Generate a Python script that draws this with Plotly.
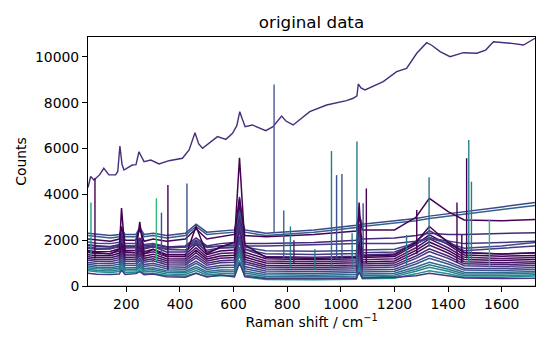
import plotly.graph_objects as go

# ---------------- data ----------------
shift = [57, 90, 140, 174, 182, 195, 236, 250, 266, 300, 350, 420, 460, 500, 550,
         603, 622, 642, 720, 900, 1058, 1068, 1080, 1200, 1280, 1330, 1400, 1460, 1600, 1724]

top_shift = [57, 67, 79, 100, 116, 135, 160, 168, 176, 184, 191, 222, 236, 247, 266, 291, 322, 359,
             409, 434, 456, 470, 484, 540, 571, 596, 612, 623, 632, 643, 670, 720, 747, 779, 795,
             822, 884, 947, 1021, 1046, 1060, 1065, 1075, 1090, 1158, 1208, 1245, 1283, 1320, 1340,
             1370, 1407, 1457, 1507, 1540, 1569, 1631, 1681, 1724]
top_counts = [4300, 4780, 4630, 4850, 5140, 4850, 4850, 5000, 6110, 5300, 5065, 5280, 5300, 5860, 5430,
              5500, 5330, 5470, 5575, 5940, 6690, 6200, 6010, 6520, 6400, 6665, 7000, 7610, 7300, 6955,
              7030, 6780, 6955, 7420, 7200, 7030, 7610, 7900, 8090, 8195, 8300, 8820, 8650, 8557, 8920,
              9360, 9504, 10160, 10622, 10500, 10230, 10010, 10185, 10160, 10300, 10665, 10600, 10520, 10815]

# upper group of spectra
spec_u1 = [2300, 2250, 2200, 2250, 2500, 2250, 2250, 2550, 2250, 2300, 2200, 2300, 2700, 2350, 2400,
           2450, 3300, 2450, 2300, 2450, 2650, 3100, 2700, 2850, 2950, 3050, 3150, 3250, 3450, 3650]
spec_u2 = [2200, 2150, 2100, 2150, 2400, 2150, 2150, 2450, 2150, 2200, 2100, 2200, 2600, 2250, 2300,
           2350, 3200, 2350, 2200, 2350, 2550, 3000, 2600, 2750, 2850, 2950, 3050, 3150, 3350, 3520]
spec_u3 = [2050, 2000, 1950, 2050, 2600, 2000, 2000, 2500, 1950, 2050, 1950, 2050, 2500, 2050, 2150,
           2250, 3800, 2200, 2150, 2250, 2400, 3000, 2450, 2450, 3000, 3830, 3250, 2880, 2850, 2900]
spec_u4 = [1800, 1750, 1700, 1800, 2200, 1750, 1750, 2100, 1750, 1800, 1700, 1750, 2100, 1750, 1850,
           1900, 3000, 1850, 1850, 1900, 2000, 2500, 2050, 2100, 2200, 2300, 2250, 2250, 2300, 2330]
spec_u5 = [1700, 1650, 1650, 1700, 2000, 1700, 1700, 1950, 1650, 1700, 1650, 1700, 2000, 1700, 1750,
           1800, 2700, 1750, 1750, 1800, 1850, 2300, 1850, 1850, 1950, 2100, 1950, 1850, 1900, 1950]

# spectrum with strong peaks
spec_p = [1500, 1450, 1400, 1600, 3400, 1500, 1450, 2800, 1400, 1600, 1300, 1300, 2600, 1400, 1700,
          1900, 5600, 1800, 1250, 1200, 1250, 3640, 1300, 1350, 1900, 2600, 1900, 1450, 1400, 1450]

# dense lower group
spec_l01 = [670, 620, 590, 630, 830, 590, 578, 700, 540, 560, 460, 432, 570, 410, 450,
            450, 1110, 400, 282, 270, 298, 730, 314, 342, 530, 670, 530, 378, 386, 432]
spec_l02 = [730, 680, 655, 705, 955, 660, 650, 805, 610, 640, 525, 500, 675, 480, 535,
            540, 1370, 485, 345, 330, 360, 900, 380, 410, 640, 815, 640, 450, 450, 495]
spec_l03 = [800, 750, 728, 783, 1058, 735, 726, 898, 685, 720, 598, 574, 768, 555, 618,
            625, 1540, 568, 417, 400, 431, 1025, 453, 484, 735, 928, 735, 526, 522, 567]
spec_l04 = [870, 820, 800, 860, 1160, 810, 802, 990, 760, 800, 670, 648, 860, 630, 700,
            710, 1710, 650, 488, 470, 502, 1150, 526, 558, 830, 1040, 830, 602, 594, 638]
spec_l05 = [950, 900, 885, 955, 1305, 900, 894, 1115, 850, 900, 755, 736, 985, 720, 805,
            820, 1990, 755, 571, 550, 584, 1340, 612, 646, 960, 1205, 960, 694, 678, 721]
spec_l06 = [1030, 980, 968, 1043, 1418, 985, 980, 1218, 935, 990, 838, 820, 1088, 805, 898,
            915, 2170, 848, 653, 630, 665, 1475, 695, 730, 1065, 1328, 1065, 780, 760, 803]
spec_l07 = [1120, 1070, 1063, 1148, 1573, 1085, 1082, 1353, 1035, 1100, 933, 918, 1223, 905, 1013,
            1035, 2460, 963, 746, 720, 757, 1675, 791, 828, 1205, 1503, 1205, 882, 854, 896]
spec_l08 = [1200, 1150, 1145, 1235, 1685, 1170, 1168, 1455, 1120, 1190, 1015, 1002, 1325, 990, 1105,
            1130, 2640, 1055, 827, 800, 838, 1810, 874, 912, 1310, 1625, 1310, 968, 936, 977]
spec_l09 = [1280, 1230, 1230, 1330, 1830, 1260, 1260, 1580, 1210, 1290, 1100, 1090, 1450, 1080, 1210,
            1240, 2920, 1160, 910, 880, 920, 2000, 960, 1000, 1440, 1790, 1440, 1060, 1020, 1060]
spec_l10 = [1370, 1320, 1323, 1428, 1953, 1355, 1356, 1693, 1305, 1390, 1193, 1184, 1563, 1175, 1313,
            1345, 3110, 1263, 1002, 970, 1011, 2145, 1053, 1094, 1555, 1923, 1555, 1156, 1112, 1152]
spec_l11 = [1460, 1410, 1415, 1525, 2075, 1450, 1452, 1805, 1400, 1490, 1285, 1278, 1675, 1270, 1415,
            1450, 3300, 1365, 1093, 1060, 1102, 2290, 1146, 1188, 1670, 2055, 1670, 1252, 1204, 1243]
spec_l12 = [1550, 1500, 1510, 1630, 2230, 1550, 1554, 1940, 1500, 1600, 1380, 1376, 1810, 1370, 1530,
            1570, 3590, 1480, 1186, 1150, 1194, 2490, 1242, 1286, 1810, 2230, 1810, 1354, 1298, 1336]
spec_l13 = [1650, 1600, 1615, 1745, 2395, 1660, 1666, 2085, 1610, 1720, 1485, 1484, 1955, 1480, 1655,
            1700, 3890, 1605, 1289, 1250, 1296, 2700, 1348, 1394, 1960, 2415, 1960, 1466, 1402, 1439]
spec_l14 = [1780, 1730, 1720, 1800, 2200, 1740, 1736, 1990, 1690, 1750, 1590, 1574, 1860, 1560, 1660,
            1680, 3020, 1610, 1404, 1380, 1416, 2280, 1448, 1484, 1840, 2120, 1840, 1536, 1650, 1750]
spec_l15 = [1920, 1870, 1850, 1910, 2210, 1860, 1852, 2040, 1810, 1850, 1720, 1698, 1910, 1680, 1750,
            1760, 2760, 1700, 1538, 1520, 1552, 2200, 1576, 1608, 1880, 2090, 1880, 1652, 1750, 1900]
spec_low = [560, 510, 500, 520, 700, 500, 540, 625, 490, 520, 400, 380, 555, 390, 480,
            400, 1000, 420, 330, 320, 340, 600, 350, 380, 450, 560, 450, 350, 330, 340]
spec_zero = [0] * len(shift)

# cosmic-ray spikes
spike_shift = [68, 83, 235, 312, 331, 355, 426, 751, 787, 812, 825, 903, 965, 984, 1004, 1042,
               1060, 1083, 1095, 1245, 1283, 1329, 1433, 1451, 1469, 1477, 1487, 1554]
spike_top = [3640, 4700, 2080, 3830, 3200, 4410, 4480, 8800, 3300, 2600, 2000, 1600, 5890, 4840,
             4890, 2300, 6310, 3610, 4260, 2230, 3320, 4750, 3650, 2230, 5580, 6370, 4550, 2900]
spike_base = [1300, 1200, 1200, 1100, 1000, 700, 900, 2300, 1200, 800, 1000, 700, 800, 1200,
              1100, 800, 900, 1200, 1000, 900, 1400, 1700, 1000, 1000, 1200, 900, 1100, 800]

x_ticks = [200, 400, 600, 800, 1000, 1200, 1400, 1600]
y_ticks = [0, 2000, 4000, 6000, 8000, 10000]

# ---------------- styles ----------------
spectra = [
    (spec_zero, "#a0da39"),
    (spec_l01, "#21918c"), (spec_l02, "#25848e"), (spec_l03, "#2a788e"),
    (spec_l04, "#31688e"), (spec_l05, "#3b528b"), (spec_l06, "#414487"),
    (spec_l07, "#46337e"), (spec_l08, "#482475"), (spec_l09, "#471365"),
    (spec_l10, "#440154"), (spec_l11, "#481a6c"), (spec_l12, "#440154"),
    (spec_l13, "#472a7a"), (spec_l14, "#443983"), (spec_l15, "#3e4989"),
    (spec_low, "#453781"),
    (spec_u5, "#443983"), (spec_u4, "#482878"), (spec_u2, "#33638d"),
    (spec_u1, "#3e4989"), (spec_u3, "#450457"), (spec_p, "#440154"),
]
spike_colors = ["#1f9e89", "#440154", "#3b528b", "#35b779", "#3b528b", "#440154", "#3b528b",
                "#4a5a95", "#31688e", "#2a788e", "#481a6c", "#2a788e", "#2a788e", "#3b528b",
                "#3b528b", "#2a788e", "#2a788e", "#3b528b", "#440154", "#2a788e", "#440154",
                "#2c728e", "#440154", "#440154", "#440154", "#26828e", "#2a788e", "#35b779"]

fig = go.Figure()
for ys, col in spectra:
    fig.add_trace(go.Scatter(x=shift, y=ys, mode="lines",
                             line=dict(color=col, width=1.5), hoverinfo="skip"))

fig.add_trace(go.Scatter(x=top_shift, y=top_counts, mode="lines",
                         line=dict(color="#472d7b", width=1.4), hoverinfo="skip"))

for sx, st, sb, sc in zip(spike_shift, spike_top, spike_base, spike_colors):
    fig.add_trace(go.Scatter(x=[sx, sx], y=[sb, st], mode="lines",
                             line=dict(color=sc, width=1.4), hoverinfo="skip"))

font_family = "DejaVu Sans"
fig.update_layout(
    width=550, height=350,
    margin=dict(l=88, r=15, t=37, b=64),
    paper_bgcolor="white", plot_bgcolor="white",
    showlegend=False,
    font=dict(family=font_family, size=13.9, color="black"),
    title=dict(text="original data", x=0.5, xref="paper", xanchor="center",
               y=1 - 22 / 350, yref="container", yanchor="middle",
               font=dict(family=font_family, size=16.7, color="black")),
    xaxis=dict(range=[57, 1724], tickvals=x_ticks, ticktext=[str(v) for v in x_ticks],
               showgrid=False, zeroline=False, showline=True, mirror=True,
               linecolor="black", linewidth=1, ticks="outside", ticklen=5, tickwidth=1,
               tickcolor="black",
               title=dict(text="Raman shift / cm<sup>−1</sup>", standoff=6,
                          font=dict(family=font_family, size=13.9))),
    yaxis=dict(range=[0, 10870], tickvals=y_ticks, ticktext=[str(v) for v in y_ticks],
               showgrid=False, zeroline=False, showline=True, mirror=True,
               linecolor="black", linewidth=1, ticks="outside", ticklen=5, tickwidth=1,
               tickcolor="black",
               title=dict(text="Counts", standoff=5,
                          font=dict(family=font_family, size=13.9))),
)

fig.write_html("out.html")
